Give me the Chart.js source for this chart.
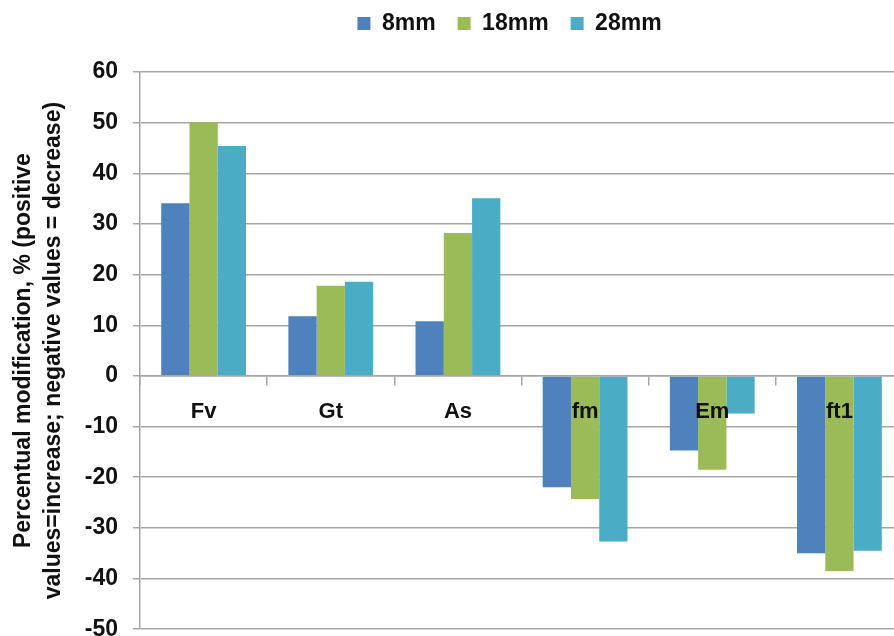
<!DOCTYPE html>
<html>
<head>
<meta charset="utf-8">
<script src="https://cdn.jsdelivr.net/npm/chart.js@4/dist/chart.umd.min.js"></script>
<style>
  html, body { margin: 0; padding: 0; background: #ffffff; overflow: hidden; }
  #wrap { width: 894px; height: 636px; overflow: hidden; position: relative; }
  canvas { display: block; }
</style>
</head>
<body>
<div id="wrap"><canvas id="chart" width="903" height="658"></canvas></div>
<script>
// Parameters measured on the specimens
const categories = ['Fv', 'Gt', 'As', 'fm', 'Em', 'ft1'];

// Percentual modification per bar diameter
const values8mm  = [34.1, 11.8, 10.8, -22.0, -14.7, -35.0];
const values18mm = [50.1, 17.8, 28.2, -24.3, -18.5, -38.5];
const values28mm = [45.4, 18.6, 35.1, -32.7, -7.4, -34.5];

const seriesNames = ['8mm', '18mm', '28mm'];

// Value axis range and step
const yMin = -50;
const yMax = 60;
const yStep = 10;

const yTitleLines = [
  'Percentual modification, % (positive',
  'values=increase; negative values = decrease)'
];

const FONT = '"Liberation Sans", Arial, sans-serif';
const GRID = '#a6a6a6';
const INK = '#111111';

// Legend sits in a taller band above the plot, centred over the plot area
const legendPlacement = {
  id: 'legendPlacement',
  afterInit(chart) {
    const legend = chart.legend;
    const fit = legend.fit.bind(legend);
    legend.fit = function () {
      fit();
      this.height = 72;
    };
  },
  afterLayout(chart) {
    const legend = chart.legend;
    const dx = 58, dy = -10;
    legend.left += dx; legend.right += dx;
    legend.top += dy; legend.bottom += dy;
  }
};

new Chart(document.getElementById('chart'), {
  type: 'bar',
  data: {
    labels: categories,
    datasets: [
      { label: seriesNames[0], data: values8mm,  backgroundColor: '#4F81BD' },
      { label: seriesNames[1], data: values18mm, backgroundColor: '#9BBB59' },
      { label: seriesNames[2], data: values28mm, backgroundColor: '#4BACC6' }
    ]
  },
  options: {
    responsive: false,
    animation: false,
    devicePixelRatio: 1,
    layout: { padding: { left: 0, right: 0, top: 0, bottom: 0 } },
    datasets: {
      bar: { categoryPercentage: 0.667, barPercentage: 1.0, borderWidth: 0 }
    },
    plugins: {
      legend: {
        position: 'top',
        labels: {
          boxWidth: 13,
          boxHeight: 13,
          padding: 22,
          color: INK,
          font: { family: FONT, size: 23, weight: 'bold' }
        }
      },
      tooltip: { enabled: false }
    },
    scales: {
      x: {
        position: { y: 0 },
        offset: true,
        grid: {
          offset: true,
          drawOnChartArea: false,
          drawTicks: true,
          tickLength: 9,
          color: GRID,
          lineWidth: 1.5,
          z: 1
        },
        border: { display: true, color: GRID, width: 1.5, z: 1 },
        ticks: {
          z: 1,
          color: INK,
          padding: 14,
          maxRotation: 0,
          font: { family: FONT, size: 22, weight: 'bold' }
        }
      },
      y: {
        min: yMin,
        max: yMax,
        grid: {
          color: GRID,
          lineWidth: 1.5,
          drawTicks: true,
          tickLength: 7
        },
        border: { display: true, color: GRID, width: 1.5 },
        ticks: {
          stepSize: yStep,
          color: INK,
          padding: 15,
          font: { family: FONT, size: 23, weight: 'bold' }
        },
        title: {
          display: true,
          text: yTitleLines,
          color: INK,
          padding: { top: 9, bottom: 1 },
          font: { family: FONT, size: 23, weight: 'bold', lineHeight: 1.3 }
        }
      }
    }
  },
  plugins: [legendPlacement]
});
</script>
</body>
</html>
